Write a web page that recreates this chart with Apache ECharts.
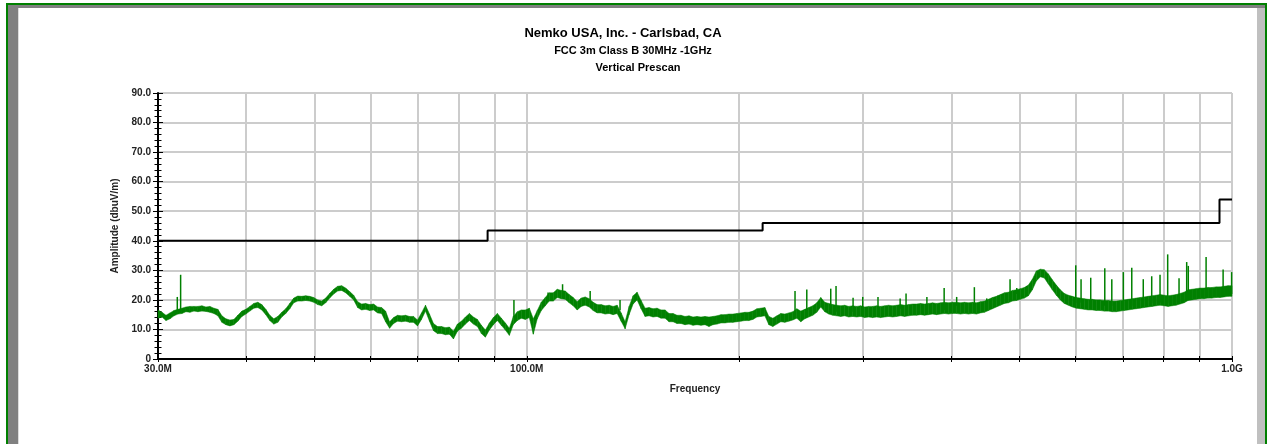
<!DOCTYPE html>
<html>
<head>
<meta charset="utf-8">
<script src="https://cdn.jsdelivr.net/npm/echarts@6/dist/echarts.min.js"></script>
<style>
  html, body { margin: 0; padding: 0; background: #fff; }
  #chart { width: 1267px; height: 444px; }
</style>
</head>
<body>
<div id="chart"></div>
<script>
// ---- text ----
const titleLines = ['Nemko USA, Inc. - Carlsbad, CA', 'FCC 3m Class B 30MHz -1GHz', 'Vertical Prescan'];
const xAxisName = 'Frequency';
const yAxisName = 'Amplitude (dbuV/m)';

// ---- axes ----
const freqTicksMHz = [30, 40, 50, 60, 70, 80, 90, 100, 200, 300, 400, 500, 600, 700, 800, 900, 1000];
const freqLabelValuesMHz = [30, 100, 1000];
const freqLabelText = ['30.0M', '100.0M', '1.0G'];
const ampMin = 0, ampMax = 90, ampStep = 10;

// ---- measured sweep: lower / upper edge of the noise trace per bin (log-spaced bins) ----
const sweepStartMHz = 30;
const sweepStopMHz = 1000;
const sweepLow = [
  13.8, 14.2, 13, 13.6, 14.6, 15.2, 15.4, 16, 15.8, 16.2,
  16, 16.2, 16.1, 15.8, 15.4, 14.6, 12.4, 11.6, 11.2, 11.6,
  12.8, 14.4, 15.2, 16.2, 17.2, 17.4, 16.6, 15, 13, 11.8,
  12.4, 14.2, 15.4, 17, 19, 19.6, 19.6, 19.8, 19.6, 19.2,
  18.4, 18, 19, 20.6, 22, 23, 23.2, 22.4, 21.2, 20,
  17.4, 16.6, 16.8, 16.4, 16.6, 15.6, 15.4, 12.6, 10.4, 12,
  12.8, 12.6, 12.8, 12.4, 12.4, 11.2, 13.4, 16.2, 12.8, 9.6,
  8.6, 8.6, 8.2, 8.4, 6.8, 9.4, 10.4, 11.8, 13, 11.8,
  11, 8.6, 7.4, 9.8, 11.6, 13, 11.4, 9.8, 8, 11.6,
  13, 13.8, 13.4, 14, 8.4, 13.6, 16.4, 18, 19.6, 19.6,
  20.8, 20.4, 20.2, 19, 18, 16.6, 17.8, 18.2, 17.6, 16.4,
  15.6, 15.6, 15.2, 15.4, 15, 15.4, 12.8, 10.2, 15, 18.6,
  20, 17, 14.4, 14.6, 14.2, 14.4, 13.8, 13.8, 12.6, 12.6,
  12, 12, 11.6, 11.8, 11.4, 11.6, 11.4, 11.6, 11, 11.6,
  11.8, 12.2, 12.2, 12.4, 12.4, 12.6, 12.8, 13, 13, 13.4,
  14.2, 14.4, 14.6, 11.6, 11, 11.8, 12.6, 12.4, 12.8, 13.2,
  13.8, 12.6, 13.6, 14.2, 14.8, 15.8, 17.6, 16, 15.2, 14.8,
  14.6, 14.4, 14.6, 14.2, 14.4, 14.2, 14.4, 14, 14.2, 14,
  14.2, 14, 14.2, 14.4, 14.2, 14.4, 14.6, 14.4, 14.6, 14.8,
  14.8, 15, 14.8, 15, 15.2, 15, 15.2, 15.4, 15.2, 15.4,
  15.4, 15.2, 15.4, 15.2, 15.4, 15.2, 15.6, 15.8, 16.4, 17,
  17.6, 18.2, 18.8, 19, 19.6, 19.8, 20.2, 20.6, 21.4, 23.4,
  26.4, 27.8, 27.4, 25.4, 23.4, 21.6, 20, 18.8, 18.2, 17.6,
  17.2, 17, 16.8, 16.6, 16.6, 16.4, 16.4, 16.2, 16.2, 16,
  16, 16.2, 16.4, 16.6, 16.8, 17, 17.2, 17.4, 17.6, 17.8,
  18, 18.2, 18, 17.8, 18, 18.2, 18.6, 19, 19.8, 20,
  20.2, 20.4, 20.4, 20.6, 20.6, 20.8, 20.8, 21, 21.2, 21.2
];
const sweepHigh = [
  16.6, 15.8, 14.8, 15.6, 16.4, 16.8, 17.2, 17.6, 17.8, 17.8,
  17.8, 18, 17.6, 17.8, 17.2, 16.8, 14.6, 13.6, 13.2, 13.4,
  14.8, 16.2, 16.8, 17.8, 18.8, 19.2, 18.4, 16.8, 14.8, 13.6,
  14.4, 15.8, 17, 18.8, 20.6, 21.3, 21.2, 21.4, 21.2, 20.8,
  20, 19.6, 20.6, 22.2, 23.6, 24.6, 24.8, 24, 22.8, 21.6,
  19.4, 18.6, 18.8, 18.4, 18.6, 17.6, 17.4, 16.2, 12.6, 14,
  14.8, 14.6, 14.8, 14.4, 14.4, 13.2, 15.6, 18.2, 15.2, 12,
  11, 11, 10.6, 10.8, 9.4, 11.8, 12.8, 14.2, 15.4, 14.2,
  13.4, 11.4, 9.8, 12.2, 14, 15.4, 13.8, 12.2, 10.4, 14.4,
  16, 16.6, 16.6, 17.2, 13.6, 16.4, 19.2, 20.8, 22.4, 22.4,
  23.6, 23.2, 23, 21.8, 20.8, 19.4, 20.6, 21, 20.4, 19.2,
  18.4, 18.4, 18, 18.2, 17.8, 18.2, 15.6, 12.6, 17.8, 21.4,
  22.6, 19.8, 17.2, 17.4, 17, 17.2, 16.6, 16.6, 15.4, 15.4,
  14.8, 14.8, 14.4, 14.6, 14.2, 14.4, 14.2, 14.4, 14.2, 14.4,
  14.6, 15, 15, 15.2, 15.2, 15.4, 15.6, 15.8, 15.8, 16.2,
  17, 17.2, 17.4, 14.4, 13.8, 14.6, 15.4, 15.2, 15.6, 16,
  17, 16.2, 16.8, 17.4, 18, 19, 20.8, 19.2, 18.8, 18.4,
  18.2, 18, 18.2, 17.8, 18, 17.8, 18, 17.6, 17.8, 17.8,
  18, 17.8, 18, 18.2, 18, 18.2, 18.4, 18.2, 18.4, 18.6,
  18.6, 18.8, 18.6, 18.8, 19, 18.8, 19, 19.2, 19, 19.2,
  19.2, 19, 19.2, 19, 19.2, 19, 19.4, 19.6, 20.2, 20.8,
  21.2, 21.8, 22.4, 22.6, 23.2, 23.4, 23.8, 24.2, 25, 27,
  29.8, 30.4, 30.2, 28.8, 26.8, 25, 23.4, 22.2, 21.6, 21.2,
  20.8, 20.6, 20.4, 20.2, 20.2, 20, 20, 19.8, 19.8, 19.6,
  19.6, 19.8, 20, 20.2, 20.4, 20.6, 20.8, 21, 21.2, 21.4,
  21.6, 21.8, 21.6, 21.4, 21.6, 21.8, 22.2, 22.6, 23.4, 23.6,
  23.8, 24, 24, 24.2, 24.2, 24.4, 24.4, 24.6, 24.8, 24.8
];

// ---- narrow emissions rising above the noise floor ----
const spikeFreqMHz = [31.95, 32.3, 95.9, 107.2, 112.4, 123, 135.6, 240.1, 249.5, 269.8, 274.5, 290.2, 299.5,
  314.8, 338.4, 345, 369.3, 390.7, 407, 431.2, 449, 465.9, 484.5, 495.3, 511.5,
  600.4, 610.9, 630.5, 660.1, 675.4, 701.4,
  720.9, 748.5, 769.4, 790.6, 810.6, 841.2, 862.5, 867, 918.9, 971.4, 998.7];
const spikeBase = [16, 16, 14, 19.5, 21, 19, 16.5, 15, 14, 16, 16, 16, 16,
  15.5, 17, 16, 16, 16.5, 18, 16.5, 18, 18.5, 21, 22, 23,
  19, 19, 18, 18, 18, 18,
  18, 19, 19, 19, 19, 20, 20, 20, 21, 21, 22];
const spikePeak = [21, 28.5, 20, 22.5, 25.3, 23, 20, 23, 23.5, 23.8, 24.7, 20.7, 21,
  21, 20.5, 22.2, 21, 24, 21, 24.3, 20.5, 21.5, 27, 24, 24.7,
  31.7, 27, 27.5, 30.7, 27, 29.4,
  30.9, 27, 28, 28.5, 35.4, 27.3, 32.8, 31.5, 34.5, 30.3, 29.4];

// ---- FCC Class B limit (3 m) ----
const limitEdgesMHz = [30, 88, 216, 960, 1000];
const limitLevels = [40, 43.5, 46, 54];

// ---- build series data ----
// the trace is drawn as a filled band between its lower and upper edge, one quad per bin step
const nBins = sweepLow.length;
const binFreq = sweepLow.map((_, i) =>
  sweepStartMHz * Math.pow(sweepStopMHz / sweepStartMHz, i / (nBins - 1)));
const bandData = [];
for (let i = 0; i < nBins - 1; i++) {
  bandData.push([binFreq[i], sweepLow[i], sweepHigh[i], binFreq[i + 1], sweepLow[i + 1], sweepHigh[i + 1]]);
}
const spikeData = spikeFreqMHz.map((f, i) => [f, spikeBase[i], spikePeak[i]]);
const limitData = [];
limitLevels.forEach((lv, k) => {
  limitData.push([limitEdgesMHz[k], lv]);
  limitData.push([limitEdgesMHz[k + 1], lv]);
});

const FONT = "'Liberation Sans', Arial, sans-serif";
const GREEN = '#008000';
const W = 1267, H = 444;

const chart = echarts.init(document.getElementById('chart'), null, { renderer: 'canvas' });

const xBase = { type: 'log', logBase: 10, min: 30, max: 1000, gridIndex: 0 };
const yBase = { type: 'value', min: ampMin, max: ampMax, interval: ampStep, gridIndex: 0 };

chart.setOption({
  animation: false,
  backgroundColor: '#fff',
  title: [
    { text: titleLines[0], left: 618, top: 22, textAlign: 'center',
      textStyle: { fontFamily: FONT, fontSize: 13, fontWeight: 'bold', color: '#000' } },
    { text: titleLines[1], left: 628, top: 40, textAlign: 'center',
      textStyle: { fontFamily: FONT, fontSize: 11, fontWeight: 'bold', color: '#000' } },
    { text: titleLines[2], left: 633, top: 57, textAlign: 'center',
      textStyle: { fontFamily: FONT, fontSize: 11, fontWeight: 'bold', color: '#000' } }
  ],
  grid: { left: 158, right: W - 1232, top: 93, bottom: H - 359, containLabel: false },
  xAxis: [
    Object.assign({}, xBase, {
      position: 'bottom',
      name: xAxisName, nameLocation: 'middle', nameGap: 25,
      nameTextStyle: { fontFamily: FONT, fontSize: 10, fontWeight: 'bold', color: '#222' },
      axisLine: { show: true, onZero: false, lineStyle: { color: '#000', width: 2 } },
      axisTick: { show: true, length: 3, customValues: freqTicksMHz, lineStyle: { color: '#000', width: 1 } },
      axisLabel: {
        show: true, margin: 5, customValues: freqLabelValuesMHz,
        fontFamily: FONT, fontSize: 10, fontWeight: 'bold', color: '#222',
        formatter: v => {
          const idx = freqLabelValuesMHz.findIndex(t => Math.abs(t - v) / t < 1e-6);
          return idx >= 0 ? freqLabelText[idx] : '';
        }
      },
      splitLine: { show: true, lineStyle: { color: '#cccccc', width: 2 } }
    }),
    Object.assign({}, xBase, {
      position: 'bottom',
      axisLine: { show: false, onZero: false },
      axisTick: { show: true, inside: true, length: 3, customValues: freqTicksMHz, lineStyle: { color: '#000', width: 1 } },
      axisLabel: { show: false },
      splitLine: { show: false }
    })
  ],
  yAxis: [
    Object.assign({}, yBase, {
      position: 'left',
      name: yAxisName, nameLocation: 'middle', nameGap: 37, nameRotate: 90,
      nameTextStyle: { fontFamily: FONT, fontSize: 10, fontWeight: 'bold', color: '#222' },
      axisLine: { show: true, onZero: false, lineStyle: { color: '#000', width: 2 } },
      axisTick: { show: true, length: 5, lineStyle: { color: '#000', width: 1 } },
      minorTick: { show: true, splitNumber: 5, length: 3.5, lineStyle: { color: '#000', width: 1 } },
      axisLabel: {
        margin: 7, fontFamily: FONT, fontSize: 10, fontWeight: 'bold', color: '#222',
        formatter: v => (v === 0 ? '0' : v.toFixed(1))
      },
      splitLine: { show: true, lineStyle: { color: '#cccccc', width: 2 } }
    }),
    Object.assign({}, yBase, {
      position: 'left',
      axisLine: { show: false, onZero: false },
      axisTick: { show: true, inside: true, length: 5, lineStyle: { color: '#000', width: 1 } },
      minorTick: { show: true, splitNumber: 5, length: 3.5, lineStyle: { color: '#000', width: 1 } },
      axisLabel: { show: false },
      splitLine: { show: false }
    })
  ],
  series: [
    {
      name: 'Vertical', type: 'custom', xAxisIndex: 0, yAxisIndex: 0,
      data: bandData, encode: { x: [0, 3], y: [1, 2, 4, 5] }, z: 3,
      renderItem: (params, api) => {
        const p1 = api.coord([api.value(0), api.value(1)]);
        const p2 = api.coord([api.value(3), api.value(4)]);
        const p3 = api.coord([api.value(3), api.value(5)]);
        const p4 = api.coord([api.value(0), api.value(2)]);
        return {
          type: 'polygon',
          shape: { points: [p1, p2, p3, p4] },
          style: { fill: GREEN, stroke: GREEN, lineWidth: 0.5 }
        };
      }
    },
    {
      name: 'Vertical peaks', type: 'custom', xAxisIndex: 0, yAxisIndex: 0,
      data: spikeData, encode: { x: 0, y: [1, 2] }, z: 3,
      renderItem: (params, api) => {
        const a = api.coord([api.value(0), api.value(1)]);
        const b = api.coord([api.value(0), api.value(2)]);
        return {
          type: 'line',
          shape: { x1: a[0], y1: a[1], x2: b[0], y2: b[1] },
          style: { stroke: GREEN, lineWidth: 1.5 }
        };
      }
    },
    {
      name: 'FCC Class B', type: 'line', xAxisIndex: 0, yAxisIndex: 0,
      data: limitData, showSymbol: false, symbol: 'none',
      lineStyle: { color: '#000', width: 2 }, z: 4
    }
  ],
  // window frame around the plot
  graphic: [
    { type: 'rect', shape: { x: 8, y: 5, width: 10, height: H - 5 }, style: { fill: '#808080' }, silent: true },
    { type: 'rect', shape: { x: 18, y: 8, width: 1, height: H - 8 }, style: { fill: '#dcdcdc' }, silent: true },
    { type: 'rect', shape: { x: 8, y: 5, width: 1257, height: 3 }, style: { fill: '#808080' }, silent: true },
    { type: 'rect', shape: { x: 1257, y: 8, width: 8, height: H - 8 }, style: { fill: '#c0c0c0' }, silent: true },
    { type: 'rect', shape: { x: 6, y: 3, width: 1261, height: 2 }, style: { fill: GREEN }, silent: true },
    { type: 'rect', shape: { x: 6, y: 3, width: 2, height: H - 3 }, style: { fill: GREEN }, silent: true },
    { type: 'rect', shape: { x: 1265, y: 3, width: 2, height: H - 3 }, style: { fill: GREEN }, silent: true }
  ]
});
</script>
</body>
</html>
